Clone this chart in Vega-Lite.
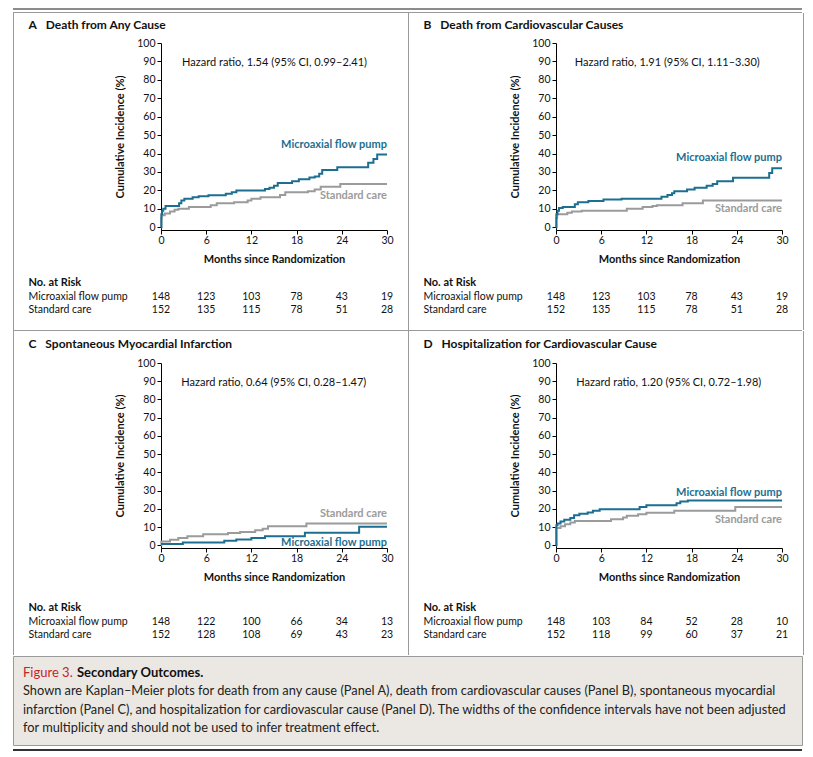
{
"$schema": "https://vega.github.io/schema/vega-lite/v6.json",
"padding": {"left": 12, "top": 8, "right": 12, "bottom": 4},
"background": "#ffffff",
"config": {
  "font": "Lato",
  "view": {"stroke": null},
  "text": {"font": "Lato"},
  "axis": {"domainColor": "#000000", "tickColor": "#000000", "labelColor": "#111111", "titleColor": "#111111", "labelFont": "Lato", "titleFont": "Lato", "grid": false, "domainWidth": 1, "tickWidth": 1, "labelOverlap": false}
},
"datasets": {
  "km": [
    {"panel":"A","group":"Standard care","month":0,"pct":0},{"panel":"A","group":"Standard care","month":0.05,"pct":5},{"panel":"A","group":"Standard care","month":0.1,"pct":6.5},{"panel":"A","group":"Standard care","month":0.5,"pct":7.5},{"panel":"A","group":"Standard care","month":1.2,"pct":8.5},{"panel":"A","group":"Standard care","month":1.8,"pct":9.5},{"panel":"A","group":"Standard care","month":2.3,"pct":10},{"panel":"A","group":"Standard care","month":3.7,"pct":11},{"panel":"A","group":"Standard care","month":6.6,"pct":12},{"panel":"A","group":"Standard care","month":7.4,"pct":13},{"panel":"A","group":"Standard care","month":9.7,"pct":13.5},{"panel":"A","group":"Standard care","month":11.5,"pct":14.5},{"panel":"A","group":"Standard care","month":12.0,"pct":15.5},{"panel":"A","group":"Standard care","month":13.2,"pct":16.3},{"panel":"A","group":"Standard care","month":15.8,"pct":17.5},{"panel":"A","group":"Standard care","month":16.5,"pct":19},{"panel":"A","group":"Standard care","month":19.5,"pct":19.5},{"panel":"A","group":"Standard care","month":20.4,"pct":20.5},{"panel":"A","group":"Standard care","month":21.2,"pct":22},{"panel":"A","group":"Standard care","month":23.8,"pct":23.5},{"panel":"A","group":"Standard care","month":30,"pct":23.5},
    {"panel":"A","group":"Microaxial flow pump","month":0,"pct":0},{"panel":"A","group":"Microaxial flow pump","month":0.05,"pct":7},{"panel":"A","group":"Microaxial flow pump","month":0.15,"pct":9},{"panel":"A","group":"Microaxial flow pump","month":0.3,"pct":10},{"panel":"A","group":"Microaxial flow pump","month":0.6,"pct":11.5},{"panel":"A","group":"Microaxial flow pump","month":2.4,"pct":13},{"panel":"A","group":"Microaxial flow pump","month":2.7,"pct":14.5},{"panel":"A","group":"Microaxial flow pump","month":3.1,"pct":15.5},{"panel":"A","group":"Microaxial flow pump","month":4.2,"pct":16.3},{"panel":"A","group":"Microaxial flow pump","month":5.0,"pct":16.8},{"panel":"A","group":"Microaxial flow pump","month":6.3,"pct":17.3},{"panel":"A","group":"Microaxial flow pump","month":8.6,"pct":18.2},{"panel":"A","group":"Microaxial flow pump","month":9.4,"pct":19},{"panel":"A","group":"Microaxial flow pump","month":10.0,"pct":20},{"panel":"A","group":"Microaxial flow pump","month":13.8,"pct":20.7},{"panel":"A","group":"Microaxial flow pump","month":14.4,"pct":21.5},{"panel":"A","group":"Microaxial flow pump","month":15.0,"pct":22.5},{"panel":"A","group":"Microaxial flow pump","month":15.5,"pct":24},{"panel":"A","group":"Microaxial flow pump","month":17.4,"pct":25},{"panel":"A","group":"Microaxial flow pump","month":18.3,"pct":26},{"panel":"A","group":"Microaxial flow pump","month":19.7,"pct":27},{"panel":"A","group":"Microaxial flow pump","month":20.4,"pct":27.5},{"panel":"A","group":"Microaxial flow pump","month":21.0,"pct":29},{"panel":"A","group":"Microaxial flow pump","month":21.4,"pct":31},{"panel":"A","group":"Microaxial flow pump","month":23.4,"pct":32.5},{"panel":"A","group":"Microaxial flow pump","month":27.5,"pct":35},{"panel":"A","group":"Microaxial flow pump","month":28.2,"pct":37},{"panel":"A","group":"Microaxial flow pump","month":28.7,"pct":39.5},{"panel":"A","group":"Microaxial flow pump","month":30,"pct":39.5},
    {"panel":"B","group":"Standard care","month":0,"pct":0},{"panel":"B","group":"Standard care","month":0.05,"pct":5},{"panel":"B","group":"Standard care","month":0.15,"pct":7},{"panel":"B","group":"Standard care","month":1.5,"pct":7.8},{"panel":"B","group":"Standard care","month":2.1,"pct":8.5},{"panel":"B","group":"Standard care","month":3.4,"pct":9},{"panel":"B","group":"Standard care","month":9.4,"pct":10},{"panel":"B","group":"Standard care","month":11.5,"pct":11},{"panel":"B","group":"Standard care","month":12.8,"pct":11.5},{"panel":"B","group":"Standard care","month":13.4,"pct":12},{"panel":"B","group":"Standard care","month":16.8,"pct":13},{"panel":"B","group":"Standard care","month":19.5,"pct":14.5},{"panel":"B","group":"Standard care","month":30,"pct":14.5},
    {"panel":"B","group":"Microaxial flow pump","month":0,"pct":0},{"panel":"B","group":"Microaxial flow pump","month":0.05,"pct":7},{"panel":"B","group":"Microaxial flow pump","month":0.2,"pct":9},{"panel":"B","group":"Microaxial flow pump","month":0.4,"pct":10.5},{"panel":"B","group":"Microaxial flow pump","month":0.9,"pct":11},{"panel":"B","group":"Microaxial flow pump","month":2.5,"pct":12.5},{"panel":"B","group":"Microaxial flow pump","month":2.9,"pct":13.5},{"panel":"B","group":"Microaxial flow pump","month":4.3,"pct":14.3},{"panel":"B","group":"Microaxial flow pump","month":6.3,"pct":15},{"panel":"B","group":"Microaxial flow pump","month":8.7,"pct":15.5},{"panel":"B","group":"Microaxial flow pump","month":14.0,"pct":16.5},{"panel":"B","group":"Microaxial flow pump","month":14.8,"pct":17.5},{"panel":"B","group":"Microaxial flow pump","month":15.4,"pct":18.5},{"panel":"B","group":"Microaxial flow pump","month":15.7,"pct":19.5},{"panel":"B","group":"Microaxial flow pump","month":17.4,"pct":20.5},{"panel":"B","group":"Microaxial flow pump","month":18.4,"pct":21.5},{"panel":"B","group":"Microaxial flow pump","month":20.0,"pct":22.5},{"panel":"B","group":"Microaxial flow pump","month":20.8,"pct":23.5},{"panel":"B","group":"Microaxial flow pump","month":21.4,"pct":25},{"panel":"B","group":"Microaxial flow pump","month":23.5,"pct":26.8},{"panel":"B","group":"Microaxial flow pump","month":28.3,"pct":29.5},{"panel":"B","group":"Microaxial flow pump","month":28.7,"pct":32},{"panel":"B","group":"Microaxial flow pump","month":30,"pct":32},
    {"panel":"C","group":"Standard care","month":0,"pct":0},{"panel":"C","group":"Standard care","month":0.05,"pct":2},{"panel":"C","group":"Standard care","month":1.2,"pct":3},{"panel":"C","group":"Standard care","month":2.3,"pct":4},{"panel":"C","group":"Standard care","month":3.5,"pct":5},{"panel":"C","group":"Standard care","month":5.6,"pct":6},{"panel":"C","group":"Standard care","month":8.9,"pct":6.7},{"panel":"C","group":"Standard care","month":10.5,"pct":7.3},{"panel":"C","group":"Standard care","month":12.5,"pct":8.2},{"panel":"C","group":"Standard care","month":13.5,"pct":9},{"panel":"C","group":"Standard care","month":14.2,"pct":10.5},{"panel":"C","group":"Standard care","month":19.3,"pct":12},{"panel":"C","group":"Standard care","month":30,"pct":12},
    {"panel":"C","group":"Microaxial flow pump","month":0,"pct":0.7},{"panel":"C","group":"Microaxial flow pump","month":2.9,"pct":1.5},{"panel":"C","group":"Microaxial flow pump","month":8.4,"pct":2.5},{"panel":"C","group":"Microaxial flow pump","month":10.0,"pct":3.2},{"panel":"C","group":"Microaxial flow pump","month":12.0,"pct":4},{"panel":"C","group":"Microaxial flow pump","month":13.8,"pct":5},{"panel":"C","group":"Microaxial flow pump","month":19.1,"pct":6.8},{"panel":"C","group":"Microaxial flow pump","month":26.3,"pct":10.2},{"panel":"C","group":"Microaxial flow pump","month":30,"pct":10.2},
    {"panel":"D","group":"Standard care","month":0,"pct":0},{"panel":"D","group":"Standard care","month":0.05,"pct":9.5},{"panel":"D","group":"Standard care","month":0.6,"pct":10.5},{"panel":"D","group":"Standard care","month":1.2,"pct":11.5},{"panel":"D","group":"Standard care","month":1.9,"pct":12.5},{"panel":"D","group":"Standard care","month":2.5,"pct":13.3},{"panel":"D","group":"Standard care","month":7.3,"pct":14.3},{"panel":"D","group":"Standard care","month":8.9,"pct":15.3},{"panel":"D","group":"Standard care","month":9.4,"pct":16.2},{"panel":"D","group":"Standard care","month":10.9,"pct":17},{"panel":"D","group":"Standard care","month":12.0,"pct":17.8},{"panel":"D","group":"Standard care","month":15.7,"pct":19},{"panel":"D","group":"Standard care","month":23.8,"pct":21},{"panel":"D","group":"Standard care","month":30,"pct":21},
    {"panel":"D","group":"Microaxial flow pump","month":0,"pct":0},{"panel":"D","group":"Microaxial flow pump","month":0.05,"pct":11},{"panel":"D","group":"Microaxial flow pump","month":0.2,"pct":12},{"panel":"D","group":"Microaxial flow pump","month":0.6,"pct":13},{"panel":"D","group":"Microaxial flow pump","month":1.1,"pct":14},{"panel":"D","group":"Microaxial flow pump","month":1.9,"pct":15},{"panel":"D","group":"Microaxial flow pump","month":2.4,"pct":16.5},{"panel":"D","group":"Microaxial flow pump","month":3.1,"pct":17.3},{"panel":"D","group":"Microaxial flow pump","month":4.2,"pct":18},{"panel":"D","group":"Microaxial flow pump","month":4.9,"pct":19},{"panel":"D","group":"Microaxial flow pump","month":5.8,"pct":19.8},{"panel":"D","group":"Microaxial flow pump","month":11.1,"pct":21},{"panel":"D","group":"Microaxial flow pump","month":12.0,"pct":22},{"panel":"D","group":"Microaxial flow pump","month":16.0,"pct":23},{"panel":"D","group":"Microaxial flow pump","month":16.5,"pct":24},{"panel":"D","group":"Microaxial flow pump","month":17.5,"pct":24.5},{"panel":"D","group":"Microaxial flow pump","month":30,"pct":24.5}
  ],
  "risk": [
    {"panel":"A","group":"Microaxial flow pump","month":0,"n":148},{"panel":"A","group":"Microaxial flow pump","month":6,"n":123},{"panel":"A","group":"Microaxial flow pump","month":12,"n":103},{"panel":"A","group":"Microaxial flow pump","month":18,"n":78},{"panel":"A","group":"Microaxial flow pump","month":24,"n":43},{"panel":"A","group":"Microaxial flow pump","month":30,"n":19},
    {"panel":"A","group":"Standard care","month":0,"n":152},{"panel":"A","group":"Standard care","month":6,"n":135},{"panel":"A","group":"Standard care","month":12,"n":115},{"panel":"A","group":"Standard care","month":18,"n":78},{"panel":"A","group":"Standard care","month":24,"n":51},{"panel":"A","group":"Standard care","month":30,"n":28},
    {"panel":"B","group":"Microaxial flow pump","month":0,"n":148},{"panel":"B","group":"Microaxial flow pump","month":6,"n":123},{"panel":"B","group":"Microaxial flow pump","month":12,"n":103},{"panel":"B","group":"Microaxial flow pump","month":18,"n":78},{"panel":"B","group":"Microaxial flow pump","month":24,"n":43},{"panel":"B","group":"Microaxial flow pump","month":30,"n":19},
    {"panel":"B","group":"Standard care","month":0,"n":152},{"panel":"B","group":"Standard care","month":6,"n":135},{"panel":"B","group":"Standard care","month":12,"n":115},{"panel":"B","group":"Standard care","month":18,"n":78},{"panel":"B","group":"Standard care","month":24,"n":51},{"panel":"B","group":"Standard care","month":30,"n":28},
    {"panel":"C","group":"Microaxial flow pump","month":0,"n":148},{"panel":"C","group":"Microaxial flow pump","month":6,"n":122},{"panel":"C","group":"Microaxial flow pump","month":12,"n":100},{"panel":"C","group":"Microaxial flow pump","month":18,"n":66},{"panel":"C","group":"Microaxial flow pump","month":24,"n":34},{"panel":"C","group":"Microaxial flow pump","month":30,"n":13},
    {"panel":"C","group":"Standard care","month":0,"n":152},{"panel":"C","group":"Standard care","month":6,"n":128},{"panel":"C","group":"Standard care","month":12,"n":108},{"panel":"C","group":"Standard care","month":18,"n":69},{"panel":"C","group":"Standard care","month":24,"n":43},{"panel":"C","group":"Standard care","month":30,"n":23},
    {"panel":"D","group":"Microaxial flow pump","month":0,"n":148},{"panel":"D","group":"Microaxial flow pump","month":6,"n":103},{"panel":"D","group":"Microaxial flow pump","month":12,"n":84},{"panel":"D","group":"Microaxial flow pump","month":18,"n":52},{"panel":"D","group":"Microaxial flow pump","month":24,"n":28},{"panel":"D","group":"Microaxial flow pump","month":30,"n":10},
    {"panel":"D","group":"Standard care","month":0,"n":152},{"panel":"D","group":"Standard care","month":6,"n":118},{"panel":"D","group":"Standard care","month":12,"n":99},{"panel":"D","group":"Standard care","month":18,"n":60},{"panel":"D","group":"Standard care","month":24,"n":37},{"panel":"D","group":"Standard care","month":30,"n":21}
  ],
  "cap": [
    {"part":"fig","line":0,"text":"Figure 3."},
    {"part":"sec","line":0,"text":"Secondary Outcomes."},
    {"part":"body","line":1,"text":"Shown are Kaplan–Meier plots for death from any cause (Panel A), death from cardiovascular causes (Panel B), spontaneous myocardial"},
    {"part":"body","line":2,"text":"infarction (Panel C), and hospitalization for cardiovascular cause (Panel D). The widths of the confidence intervals have not been adjusted"},
    {"part":"body","line":3,"text":"for multiplicity and should not be used to infer treatment effect."}
  ]
},
"spacing": 0,
"vconcat": [
  {"width": 789, "height": 2, "data": {"values": []}, "mark": "point", "view": {"fill": "#8c8c8c", "stroke": null}},
  {"width": 789, "height": 2, "data": {"values": []}, "mark": "point"},
  {"width": 789, "height": 1, "data": {"values": []}, "mark": "point", "view": {"fill": "#9a9a9a", "stroke": null}},
  {"spacing": 14, "hconcat": [
    {"width": 1, "height": 317, "data": {"values": []}, "mark": "point", "view": {"fill": "#9a9a9a", "stroke": null}},
    {"spacing": 2, "vconcat": [
      {"width": 226, "height": 23, "data": {"values": []}, "mark": "point",
       "encoding": {"y": {"field": "t", "type": "nominal", "scale": {"domain": ["A\u2002 Death from Any Cause"]}, "axis": {"title": null, "domain": false, "ticks": false, "tickSize": 0, "labelAlign": "left", "labelPadding": 133, "labelFontSize": 12, "labelFontWeight": "bold", "labelLimit": 400}}}},
      {"width": 226, "height": 187, "layer": [
        {"data": {"name": "km"}, "transform": [{"filter": "datum.panel === 'A'"}],
         "mark": {"type": "line", "interpolate": "step-after", "strokeWidth": 2},
         "encoding": {
           "x": {"field": "month", "type": "quantitative", "scale": {"domain": [0, 30], "nice": false}, "axis": {"values": [0, 6, 12, 18, 24, 30], "tickCount": 12, "title": "Months since Randomization", "labelFlush": false, "tickSize": 4, "labelPadding": 1, "titlePadding": 8, "labelFontSize": 10.5, "titleFontSize": 11, "titleFontWeight": "bold"}},
           "y": {"field": "pct", "type": "quantitative", "scale": {"domain": [-1.5, 100], "nice": false}, "axis": {"values": [0, 10, 20, 30, 40, 50, 60, 70, 80, 90, 100], "tickCount": 20, "title": "Cumulative Incidence (%)", "tickSize": 4, "labelPadding": 2, "titlePadding": 11, "labelFontSize": 10.5, "titleFontSize": 11, "titleFontWeight": "bold"}},
           "color": {"field": "group", "type": "nominal", "scale": {"domain": ["Microaxial flow pump", "Standard care"], "range": ["#1d6f91", "#9b9b9b"]}, "legend": null}}},
        {"data": {"values": [{}]}, "mark": {"type": "text", "text": "Hazard ratio, 1.54 (95% CI, 0.99–2.41)", "align": "left", "baseline": "middle", "fontSize": 11, "color": "#111111"}, "encoding": {"x": {"datum": 2.8}, "y": {"datum": 89}}},
        {"data": {"values": [{}]}, "mark": {"type": "text", "text": "Microaxial flow pump", "align": "right", "baseline": "middle", "fontSize": 11, "fontWeight": "bold", "color": "#1d6f91"}, "encoding": {"x": {"datum": 30}, "y": {"datum": 44.6}}},
        {"data": {"values": [{}]}, "mark": {"type": "text", "text": "Standard care", "align": "right", "baseline": "middle", "fontSize": 11, "fontWeight": "bold", "color": "#9b9b9b"}, "encoding": {"x": {"datum": 30}, "y": {"datum": 16.8}}}
      ]},
      {"width": 226, "height": 50, "data": {"name": "risk"}, "transform": [{"filter": "datum.panel === 'A'"}],
       "mark": {"type": "text", "fontSize": 10.5, "color": "#111111"},
       "encoding": {
         "x": {"field": "month", "type": "quantitative", "scale": {"domain": [0, 30], "nice": false}, "axis": null},
         "y": {"field": "group", "type": "nominal", "scale": {"type": "band", "domain": ["No. at Risk", "Microaxial flow pump", "Standard care"], "paddingInner": 0, "paddingOuter": 0.352, "align": 1}, "axis": {"title": null, "domain": false, "ticks": false, "tickSize": 0, "labelAlign": "left", "labelPadding": 133, "labelFontSize": {"condition": {"test": "datum.value === 'No. at Risk'", "value": 11}, "value": 10.5}, "labelFontWeight": {"condition": {"test": "datum.value === 'No. at Risk'", "value": "bold"}, "value": "normal"}, "labelLimit": 300}},
         "text": {"field": "n", "type": "quantitative"}}}
    ]},
    {"width": 1, "height": 317, "data": {"values": []}, "mark": "point", "view": {"fill": "#9a9a9a", "stroke": null}},
    {"spacing": 2, "vconcat": [
      {"width": 226, "height": 23, "data": {"values": []}, "mark": "point",
       "encoding": {"y": {"field": "t", "type": "nominal", "scale": {"domain": ["B\u2002 Death from Cardiovascular Causes"]}, "axis": {"title": null, "domain": false, "ticks": false, "tickSize": 0, "labelAlign": "left", "labelPadding": 133, "labelFontSize": 12, "labelFontWeight": "bold", "labelLimit": 400}}}},
      {"width": 226, "height": 187, "layer": [
        {"data": {"name": "km"}, "transform": [{"filter": "datum.panel === 'B'"}],
         "mark": {"type": "line", "interpolate": "step-after", "strokeWidth": 2},
         "encoding": {
           "x": {"field": "month", "type": "quantitative", "scale": {"domain": [0, 30], "nice": false}, "axis": {"values": [0, 6, 12, 18, 24, 30], "tickCount": 12, "title": "Months since Randomization", "labelFlush": false, "tickSize": 4, "labelPadding": 1, "titlePadding": 8, "labelFontSize": 10.5, "titleFontSize": 11, "titleFontWeight": "bold"}},
           "y": {"field": "pct", "type": "quantitative", "scale": {"domain": [-1.5, 100], "nice": false}, "axis": {"values": [0, 10, 20, 30, 40, 50, 60, 70, 80, 90, 100], "tickCount": 20, "title": "Cumulative Incidence (%)", "tickSize": 4, "labelPadding": 2, "titlePadding": 11, "labelFontSize": 10.5, "titleFontSize": 11, "titleFontWeight": "bold"}},
           "color": {"field": "group", "type": "nominal", "scale": {"domain": ["Microaxial flow pump", "Standard care"], "range": ["#1d6f91", "#9b9b9b"]}, "legend": null}}},
        {"data": {"values": [{}]}, "mark": {"type": "text", "text": "Hazard ratio, 1.91 (95% CI, 1.11–3.30)", "align": "left", "baseline": "middle", "fontSize": 11, "color": "#111111"}, "encoding": {"x": {"datum": 2.5}, "y": {"datum": 89}}},
        {"data": {"values": [{}]}, "mark": {"type": "text", "text": "Microaxial flow pump", "align": "right", "baseline": "middle", "fontSize": 11, "fontWeight": "bold", "color": "#1d6f91"}, "encoding": {"x": {"datum": 30}, "y": {"datum": 37.5}}},
        {"data": {"values": [{}]}, "mark": {"type": "text", "text": "Standard care", "align": "right", "baseline": "middle", "fontSize": 11, "fontWeight": "bold", "color": "#9b9b9b"}, "encoding": {"x": {"datum": 30}, "y": {"datum": 9.8}}}
      ]},
      {"width": 226, "height": 50, "data": {"name": "risk"}, "transform": [{"filter": "datum.panel === 'B'"}],
       "mark": {"type": "text", "fontSize": 10.5, "color": "#111111"},
       "encoding": {
         "x": {"field": "month", "type": "quantitative", "scale": {"domain": [0, 30], "nice": false}, "axis": null},
         "y": {"field": "group", "type": "nominal", "scale": {"type": "band", "domain": ["No. at Risk", "Microaxial flow pump", "Standard care"], "paddingInner": 0, "paddingOuter": 0.352, "align": 1}, "axis": {"title": null, "domain": false, "ticks": false, "tickSize": 0, "labelAlign": "left", "labelPadding": 133, "labelFontSize": {"condition": {"test": "datum.value === 'No. at Risk'", "value": 11}, "value": 10.5}, "labelFontWeight": {"condition": {"test": "datum.value === 'No. at Risk'", "value": "bold"}, "value": "normal"}, "labelLimit": 300}},
         "text": {"field": "n", "type": "quantitative"}}}
    ]},
    {"width": 1, "height": 317, "data": {"values": []}, "mark": "point", "view": {"fill": "#9a9a9a", "stroke": null}}
  ]},
  {"width": 789, "height": 1, "data": {"values": []}, "mark": "point", "view": {"fill": "#9a9a9a", "stroke": null}},
  {"spacing": 14, "hconcat": [
    {"width": 1, "height": 324, "data": {"values": []}, "mark": "point", "view": {"fill": "#9a9a9a", "stroke": null}},
    {"spacing": 2, "vconcat": [
      {"width": 226, "height": 25, "data": {"values": []}, "mark": "point",
       "encoding": {"y": {"field": "t", "type": "nominal", "scale": {"domain": ["C\u2002 Spontaneous Myocardial Infarction"]}, "axis": {"title": null, "domain": false, "ticks": false, "tickSize": 0, "labelAlign": "left", "labelPadding": 133, "labelFontSize": 12, "labelFontWeight": "bold", "labelLimit": 400}}}},
      {"width": 226, "height": 185, "layer": [
        {"data": {"name": "km"}, "transform": [{"filter": "datum.panel === 'C'"}],
         "mark": {"type": "line", "interpolate": "step-after", "strokeWidth": 2},
         "encoding": {
           "x": {"field": "month", "type": "quantitative", "scale": {"domain": [0, 30], "nice": false}, "axis": {"values": [0, 6, 12, 18, 24, 30], "tickCount": 12, "title": "Months since Randomization", "labelFlush": false, "tickSize": 4, "labelPadding": 1, "titlePadding": 8, "labelFontSize": 10.5, "titleFontSize": 11, "titleFontWeight": "bold"}},
           "y": {"field": "pct", "type": "quantitative", "scale": {"domain": [-1.5, 100], "nice": false}, "axis": {"values": [0, 10, 20, 30, 40, 50, 60, 70, 80, 90, 100], "tickCount": 20, "title": "Cumulative Incidence (%)", "tickSize": 4, "labelPadding": 2, "titlePadding": 11, "labelFontSize": 10.5, "titleFontSize": 11, "titleFontWeight": "bold"}},
           "color": {"field": "group", "type": "nominal", "scale": {"domain": ["Microaxial flow pump", "Standard care"], "range": ["#1d6f91", "#9b9b9b"]}, "legend": null}}},
        {"data": {"values": [{}]}, "mark": {"type": "text", "text": "Hazard ratio, 0.64 (95% CI, 0.28–1.47)", "align": "left", "baseline": "middle", "fontSize": 11, "color": "#111111"}, "encoding": {"x": {"datum": 2.7}, "y": {"datum": 89}}},
        {"data": {"values": [{}]}, "mark": {"type": "text", "text": "Microaxial flow pump", "align": "right", "baseline": "middle", "fontSize": 11, "fontWeight": "bold", "color": "#1d6f91"}, "encoding": {"x": {"datum": 30}, "y": {"datum": 1}}},
        {"data": {"values": [{}]}, "mark": {"type": "text", "text": "Standard care", "align": "right", "baseline": "middle", "fontSize": 11, "fontWeight": "bold", "color": "#9b9b9b"}, "encoding": {"x": {"datum": 30}, "y": {"datum": 17}}}
      ]},
      {"width": 226, "height": 57, "data": {"name": "risk"}, "transform": [{"filter": "datum.panel === 'C'"}],
       "mark": {"type": "text", "fontSize": 10.5, "color": "#111111"},
       "encoding": {
         "x": {"field": "month", "type": "quantitative", "scale": {"domain": [0, 30], "nice": false}, "axis": null},
         "y": {"field": "group", "type": "nominal", "scale": {"type": "band", "domain": ["No. at Risk", "Microaxial flow pump", "Standard care"], "paddingInner": 0, "paddingOuter": 0.611, "align": 1}, "axis": {"title": null, "domain": false, "ticks": false, "tickSize": 0, "labelAlign": "left", "labelPadding": 133, "labelFontSize": {"condition": {"test": "datum.value === 'No. at Risk'", "value": 11}, "value": 10.5}, "labelFontWeight": {"condition": {"test": "datum.value === 'No. at Risk'", "value": "bold"}, "value": "normal"}, "labelLimit": 300}},
         "text": {"field": "n", "type": "quantitative"}}}
    ]},
    {"width": 1, "height": 324, "data": {"values": []}, "mark": "point", "view": {"fill": "#9a9a9a", "stroke": null}},
    {"spacing": 2, "vconcat": [
      {"width": 226, "height": 25, "data": {"values": []}, "mark": "point",
       "encoding": {"y": {"field": "t", "type": "nominal", "scale": {"domain": ["D\u2002 Hospitalization for Cardiovascular Cause"]}, "axis": {"title": null, "domain": false, "ticks": false, "tickSize": 0, "labelAlign": "left", "labelPadding": 133, "labelFontSize": 12, "labelFontWeight": "bold", "labelLimit": 400}}}},
      {"width": 226, "height": 185, "layer": [
        {"data": {"name": "km"}, "transform": [{"filter": "datum.panel === 'D'"}],
         "mark": {"type": "line", "interpolate": "step-after", "strokeWidth": 2},
         "encoding": {
           "x": {"field": "month", "type": "quantitative", "scale": {"domain": [0, 30], "nice": false}, "axis": {"values": [0, 6, 12, 18, 24, 30], "tickCount": 12, "title": "Months since Randomization", "labelFlush": false, "tickSize": 4, "labelPadding": 1, "titlePadding": 8, "labelFontSize": 10.5, "titleFontSize": 11, "titleFontWeight": "bold"}},
           "y": {"field": "pct", "type": "quantitative", "scale": {"domain": [-1.5, 100], "nice": false}, "axis": {"values": [0, 10, 20, 30, 40, 50, 60, 70, 80, 90, 100], "tickCount": 20, "title": "Cumulative Incidence (%)", "tickSize": 4, "labelPadding": 2, "titlePadding": 11, "labelFontSize": 10.5, "titleFontSize": 11, "titleFontWeight": "bold"}},
           "color": {"field": "group", "type": "nominal", "scale": {"domain": ["Microaxial flow pump", "Standard care"], "range": ["#1d6f91", "#9b9b9b"]}, "legend": null}}},
        {"data": {"values": [{}]}, "mark": {"type": "text", "text": "Hazard ratio, 1.20 (95% CI, 0.72–1.98)", "align": "left", "baseline": "middle", "fontSize": 11, "color": "#111111"}, "encoding": {"x": {"datum": 2.7}, "y": {"datum": 89}}},
        {"data": {"values": [{}]}, "mark": {"type": "text", "text": "Microaxial flow pump", "align": "right", "baseline": "middle", "fontSize": 11, "fontWeight": "bold", "color": "#1d6f91"}, "encoding": {"x": {"datum": 30}, "y": {"datum": 28.6}}},
        {"data": {"values": [{}]}, "mark": {"type": "text", "text": "Standard care", "align": "right", "baseline": "middle", "fontSize": 11, "fontWeight": "bold", "color": "#9b9b9b"}, "encoding": {"x": {"datum": 30}, "y": {"datum": 13.7}}}
      ]},
      {"width": 226, "height": 57, "data": {"name": "risk"}, "transform": [{"filter": "datum.panel === 'D'"}],
       "mark": {"type": "text", "fontSize": 10.5, "color": "#111111"},
       "encoding": {
         "x": {"field": "month", "type": "quantitative", "scale": {"domain": [0, 30], "nice": false}, "axis": null},
         "y": {"field": "group", "type": "nominal", "scale": {"type": "band", "domain": ["No. at Risk", "Microaxial flow pump", "Standard care"], "paddingInner": 0, "paddingOuter": 0.611, "align": 1}, "axis": {"title": null, "domain": false, "ticks": false, "tickSize": 0, "labelAlign": "left", "labelPadding": 133, "labelFontSize": {"condition": {"test": "datum.value === 'No. at Risk'", "value": 11}, "value": 10.5}, "labelFontWeight": {"condition": {"test": "datum.value === 'No. at Risk'", "value": "bold"}, "value": "normal"}, "labelLimit": 300}},
         "text": {"field": "n", "type": "quantitative"}}}
    ]},
    {"width": 1, "height": 324, "data": {"values": []}, "mark": "point", "view": {"fill": "#9a9a9a", "stroke": null}}
  ]},
  {"width": 789, "height": 89, "data": {"name": "cap"}, "view": {"fill": "#ebe8e3", "stroke": "#9a9a9a", "strokeWidth": 1},
   "layer": [
     {"transform": [{"filter": "datum.part === 'body'"}],
      "mark": {"type": "text", "align": "left", "baseline": "middle", "fontSize": 12.8, "font": "Lato", "color": "#222222", "dx": 10},
      "encoding": {"x": {"datum": 0, "type": "quantitative", "scale": {"domain": [0, 1]}, "axis": null}, "y": {"field": "line", "type": "ordinal", "scale": {"type": "point", "domain": [0, 1, 2, 3], "padding": 0.9}, "axis": null}, "text": {"field": "text"}}},
     {"transform": [{"filter": "datum.part === 'fig'"}],
      "mark": {"type": "text", "align": "left", "baseline": "middle", "fontSize": 13, "font": "Lato", "color": "#c0272d", "dx": 10},
      "encoding": {"x": {"datum": 0, "type": "quantitative"}, "y": {"field": "line", "type": "ordinal"}, "text": {"field": "text"}}},
     {"transform": [{"filter": "datum.part === 'sec'"}],
      "mark": {"type": "text", "align": "left", "baseline": "middle", "fontSize": 13, "font": "Lato", "fontWeight": "bold", "color": "#111111", "dx": 64},
      "encoding": {"x": {"datum": 0, "type": "quantitative"}, "y": {"field": "line", "type": "ordinal"}, "text": {"field": "text"}}}
   ]},
  {"width": 789, "height": 3, "data": {"values": []}, "mark": "point"},
  {"width": 789, "height": 2, "data": {"values": []}, "mark": "point", "view": {"fill": "#333333", "stroke": null}}
]
}
